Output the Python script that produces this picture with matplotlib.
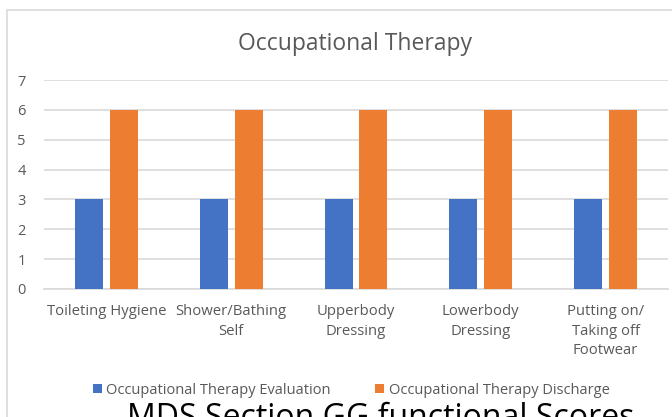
import matplotlib.pyplot as plt
import numpy as np
from matplotlib.patches import Rectangle

plt.rcParams['font.family'] = ['Open Sans', 'DejaVu Sans']

# Datos del gráfico
categorias = ['Toileting Hygiene', 'Shower/Bathing\nSelf', 'Upperbody\nDressing',
              'Lowerbody\nDressing', 'Putting on/\nTaking off\nFootwear']
evaluacion = [3, 3, 3, 3, 3]
alta = [6, 6, 6, 6, 6]
serie_eval = 'Occupational Therapy Evaluation'
serie_alta = 'Occupational Therapy Discharge'

gris = '#595959'
linea = '#d9d9d9'

fig = plt.figure(figsize=(6.72, 4.17), dpi=100)
ax = fig.add_axes([44 / 672, 1 - 289 / 417, 624 / 672, 209 / 417])

x = np.arange(len(categorias))
ancho = 0.224
ax.bar(x - 0.14, evaluacion, ancho, color='#4472C4', label=serie_eval, zorder=3)
ax.bar(x + 0.14, alta, ancho, color='#ED7D31', label=serie_alta, zorder=3)

ax.set_xlim(-0.5, len(categorias) - 0.5)
ax.set_ylim(0, 7)
ax.set_yticks(range(0, 8))
ax.yaxis.grid(True, color=linea, linewidth=1.2, zorder=0)
ax.set_xticks(x)
ax.set_xticklabels(categorias, fontsize=10.7, color=gris, linespacing=1.4)
ax.tick_params(axis='y', labelsize=10.5, labelcolor=gris, length=0, pad=13)
ax.tick_params(axis='x', length=0, pad=11)
for lado in ['top', 'right', 'left']:
    ax.spines[lado].set_visible(False)
ax.spines['bottom'].set_color(linea)
ax.spines['bottom'].set_linewidth(1.2)

# Título y leyenda
fig.text(355 / 672, 1 - 44 / 417, 'Occupational Therapy', ha='center', va='center',
         fontsize=16.5, color=gris)
fig.legend(loc='center', bbox_to_anchor=(351 / 672, 1 - 390 / 417), ncol=2,
           frameon=False, fontsize=10.5, handlelength=0.65, handleheight=0.65,
           handletextpad=0.3, columnspacing=3.0, labelcolor=gris)

# Marco del gráfico
fig.patches.append(Rectangle((7 / 672, -0.2), 1.2, 1.2 - 10 / 417, transform=fig.transFigure,
                             fill=False, edgecolor=linea, linewidth=1.2))

# Texto recortado de abajo
fig.text(381 / 672, 1 - 402 / 417, 'MDS Section GG functional Scores', ha='center', va='top',
         fontsize=23, color='black')

fig.savefig('out.png', dpi=100)
